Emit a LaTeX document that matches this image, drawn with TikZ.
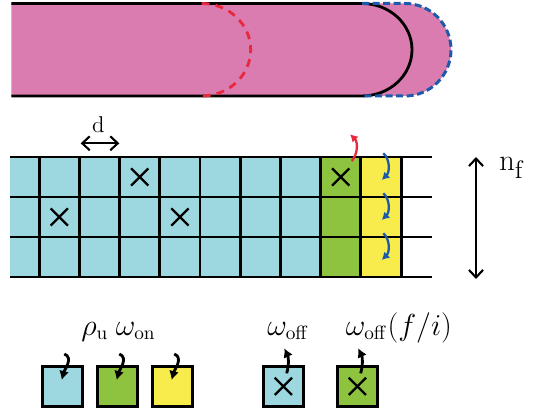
\documentclass[tikz,border=0pt]{standalone}
\usetikzlibrary{arrows.meta,positioning,calc,shapes.misc}

\definecolor{tubepink}{RGB}{218,124,176}
\definecolor{cellcyan}{RGB}{157,216,224}
\definecolor{cellgreen}{RGB}{141,195,63}
\definecolor{cellyellow}{RGB}{247,236,75}
\definecolor{capred}{RGB}{232,40,60}
\definecolor{capblue}{RGB}{30,90,170}

\newcommand{\legsize}{\fontsize{16}{19}\selectfont}

\begin{document}
\begin{tikzpicture}[
  x=0.02cm, y=0.02cm,
  >={Latex[length=1.5mm,width=1.7mm]},
  gridline/.style={line width=1.7pt},
  cell/.style={draw, line width=1.7pt, minimum size=0.8cm, inner sep=0pt},
  xmark/.style={cross out, draw, line width=1.3pt, minimum size=0.3cm, inner sep=0pt},
  hop/.style={->, line width=1.3pt},
  leghop/.style={-{Latex[length=1.8mm,width=2mm]}, line width=1.6pt},
  dim/.style={{Straight Barb[length=1.5mm,width=2.8mm]}-{Straight Barb[length=1.5mm,width=2.8mm]}, line width=1.2pt},
  lab/.style={anchor=base west, inner sep=0pt, font=\legsize}
]
\useasboundingbox (0,0) rectangle (536,412);

% tube
\fill[tubepink] (11.3,408.5) -- (405,408.5) arc[start angle=90, end angle=-90, x radius=0.92cm, y radius=0.925cm] -- (11.3,316) -- cycle;
\draw[line width=1.6pt] (11.3,408.5) -- (362,408.5) arc[start angle=90, end angle=-90, x radius=1cm, y radius=0.925cm] -- (11.3,316);
\draw[capblue, line width=1.7pt, dash pattern=on 4pt off 2pt] (362,408.5) -- (405,408.5) arc[start angle=90, end angle=-90, x radius=0.92cm, y radius=0.925cm] -- (362,316);
\draw[capred, line width=1.6pt, dash pattern=on 4.5pt off 3.5pt] (201.7,408.5) arc[start angle=90, end angle=-90, x radius=0.98cm, y radius=0.925cm];

% lattice
\fill[cellcyan] (10.3,135) rectangle (320.6,255);
\fill[cellgreen] (320.6,135) rectangle (360.8,255);
\fill[cellyellow] (360.8,135) rectangle (401,255);
\foreach \y in {135,175,215,255}
  \draw[gridline] (10.3,\y) -- (432,\y);
\foreach \i in {0,...,9}
  \draw[gridline] ({39.2+40.2*\i},135) -- ({39.2+40.2*\i},255);

\node[xmark] (x1) at (139.7,235) {};
\node[xmark] (x2) at (59.3,195) {};
\node[xmark] (x3) at (179.9,195) {};
\node[xmark] (x4) at (340.7,235) {};

% spacing and width
\coordinate (dl) at (80.7,268.7);
\coordinate (dr) at (119.3,268.7);
\draw[dim] (dl) -- (dr);
\node[font=\fontsize{13}{15}\selectfont, inner sep=0pt] (d) at (98.3,287.5) {d};

\coordinate (ntop) at (476,255);
\coordinate (nbot) at (476,133);
\draw[dim] (ntop) -- (nbot);
\node[anchor=base west, inner sep=0pt, font=\fontsize{19}{22}\selectfont] (nf) at (499,241) {$\mathrm{n}_\mathrm{f}$};

% hops at the tip
\coordinate (rs) at (351.7,251);
\coordinate (re) at (350,277.7);
\draw[hop, capred] (rs) .. controls (358,258) and (358,270) .. (re);
\foreach \j in {0,1,2}
  \draw[hop, capblue] (383.3,{258.7-40*\j}) .. controls (390,{253-40*\j}) and (390,{240-40*\j}) .. (381.7,{232-40*\j});

% legend
\node[cell, fill=cellcyan] (l1) at (62.4,25.7) {};
\node[cell, fill=cellgreen, right=0.24cm of l1] (l2) {};
\node[cell, fill=cellyellow, right=0.24cm of l2] (l3) {};
\node[cell, fill=cellcyan] (l4) at (283.4,25.7) {};
\node[cell, fill=cellgreen, right=0.62cm of l4] (l5) {};
\node[xmark] (x5) at (l4) {};
\node[xmark] (x6) at (l5) {};

\foreach \n in {l1,l2,l3}
  \draw[leghop] ($(\n)+(1.9,32.3)$) to[out=-20, in=75] ($(\n)+(-0.7,6.3)$);
\foreach \n in {l4,l5}
  \draw[leghop] ($(\n)+(3.3,13)$) to[out=75, in=-65] ($(\n)+(0.9,38)$);

\node[lab] (rho) at (81,77) {$\rho_\mathrm{u}$};
\node[lab] (won) at (115.5,77) {$\omega_\mathrm{on}$};
\node[lab] (woff) at (267,77) {$\omega_\mathrm{off}$};
\node[lab] (woffi) at (345.5,77) {$\omega_\mathrm{off}(f/i)$};
\end{tikzpicture}
\end{document}
